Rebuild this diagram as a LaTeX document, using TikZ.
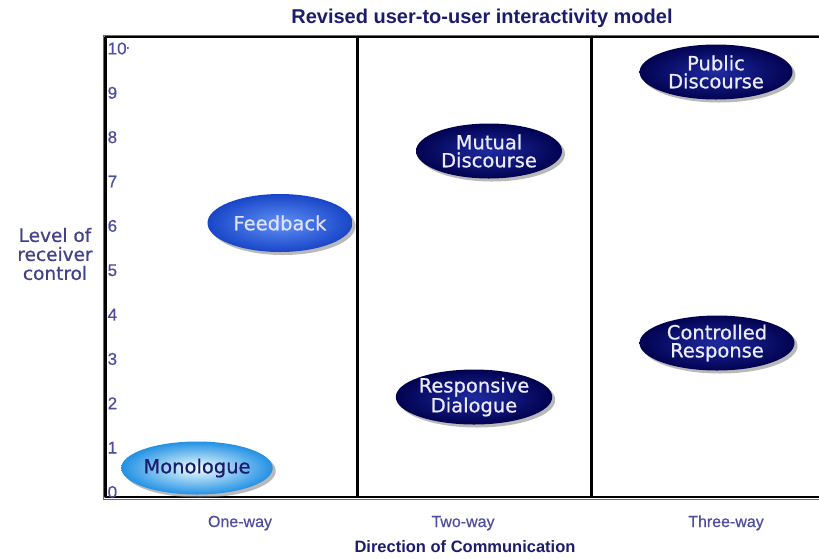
\documentclass[tikz,border=0pt]{standalone}
\usepackage{fontspec}
\setmainfont{Liberation Sans}
\newfontfamily\ovalfont[FakeBold=0.7]{DejaVu Sans}
\newfontfamily\scalefont[FakeBold=0.6]{Liberation Sans}
\usetikzlibrary{positioning,shapes.geometric,shadows}
\definecolor{navy}{RGB}{28,28,110}
\definecolor{slate}{RGB}{78,78,160}
\definecolor{rimblue}{RGB}{96,96,190}
\definecolor{darkout}{RGB}{2,2,80}
\definecolor{darkin}{RGB}{30,42,160}

\begin{document}
\begin{tikzpicture}[x=1pt,y=-1pt, line join=round,
  oval/.style={ellipse, inner sep=0pt, align=center, minimum width=150pt, minimum height=55pt,
    font=\ovalfont\fontsize{19.5}{18}\selectfont,
    drop shadow={shadow xshift=3pt, shadow yshift=-3pt, fill=black!50, opacity=.55}},
  darkoval/.style={oval, shading=radial, inner color=darkin, outer color=darkout, text=white!92!blue},
  tick/.style={anchor=west, inner sep=0pt, text=slate, font=\scalefont\fontsize{17}{17}\selectfont},
  waylab/.style={anchor=base, inner sep=0pt, text=slate, font=\scalefont\fontsize{16}{16}\selectfont},
  frame/.style={black, line width=2.4pt}]
\useasboundingbox (0,0) rectangle (819,558);

% title
\node[anchor=base, inner sep=0pt, text=navy, font=\bfseries\fontsize{20}{20}\selectfont] (title) at (482,23) {Revised user-to-user interactivity model};

% frame and columns
\draw[rimblue, line width=1.4pt] (103.5,499.5) -- (103.5,35.5) -- (819,35.5) (103.5,499.5) -- (819,499.5);
\draw[frame] (819,37) -- (105.5,37) -- (105.5,497) -- (819,497);
\draw[frame] (357.5,37) -- (357.5,497);
\draw[frame] (591.5,37) -- (591.5,497);

% level scale
\foreach \n in {0,...,9}
  \node[tick] (t\n) at (107.5,{492-44.35*\n}) {\n};
\node[tick] (t10) at (107.5,48.5) {10\raisebox{3pt}{\fontsize{6}{6}\selectfont°}};

\node[align=center, inner sep=0pt, text=slate!85!black, font=\ovalfont\fontsize{18.5}{19}\selectfont] (level) at (55,254) {Level of\\receiver\\control};

% the six modes
\node[oval, shading=radial, inner color=cyan!6!white, outer color={rgb,255:red,35;green,145;blue,228}, text=navy, minimum width=151pt, minimum height=53pt] (mono) at (197,468) {Monologue};
\node[oval, shading=radial, inner color={rgb,255:red,95;green,145;blue,245}, outer color={rgb,255:red,25;green,70;blue,200}, text=white!88!blue, minimum width=145pt, minimum height=58pt] (feed) at (280,223) {Feedback};
\node[darkoval, minimum width=146pt] (mutual) at (489,151) {Mutual\\Discourse};
\node[darkoval, minimum width=154pt] (resp) at (474,397) {Responsive\\Dialogue};
\node[darkoval, minimum width=153pt] (public) at (716,72) {Public\\Discourse};
\node[darkoval, minimum width=155pt] (contr) at (717,343) {Controlled\\Response};

% direction labels
\node[waylab] (one) at (240,527) {One-way};
\node[waylab] (two) at (463,527) {Two-way};
\node[waylab] (three) at (726,527) {Three-way};
\node[anchor=base, inner sep=0pt, text=navy, font=\bfseries\fontsize{16.5}{16}\selectfont] (dir) at (465,552) {Direction of Communication};
\end{tikzpicture}
\end{document}
